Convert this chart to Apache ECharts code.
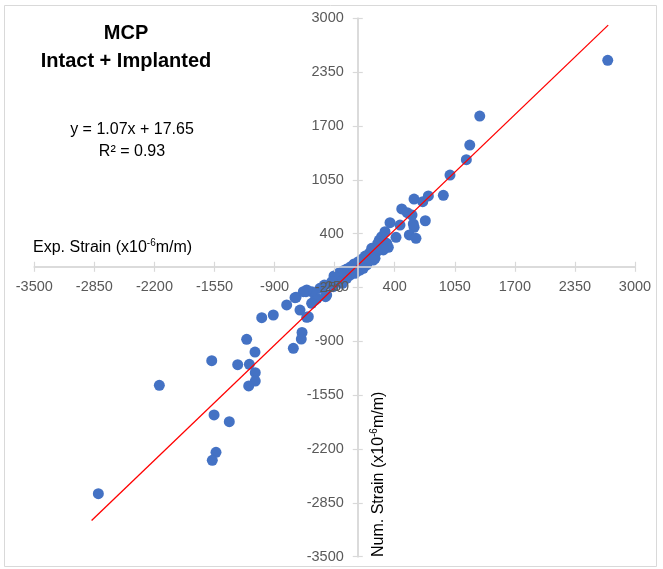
<!DOCTYPE html>
<html>
<head>
<meta charset="utf-8">
<script src="https://cdn.jsdelivr.net/npm/echarts@6/dist/echarts.min.js"></script>
<style>
html,body{margin:0;padding:0;background:#fff;}
#chart{width:663px;height:569px;}
</style>
</head>
<body>
<div id="chart"></div>
<script>
// Experimental strain (x) and numerical strain (y), x10^-6 m/m
const expStrain = [2705,1320,1212,1175,998,926,764,609,703,
  476,536,587,731,601,610,558,630,414,457,349,295,259,233,296,241,215,
  331,313,277,205,151,125,187,80,43,7,-40,-76,-120,-156,-210,-257,168,97,60,24,-11,-30,-84,-120,-192,-165,-265,-280,-362,-409,-348,-336,-440,-462,-499,-498,-560,-552,-589,-668,-679,-769,-625,-914,-1039,-552,-535,-603,-611,-697,-1202,-1112,-1580,-1299,-1173,-1109,-1109,-1180,-2147,-1555,-1390,-1534,-1574,-2807];
const numStrain = [2493,1820,1470,1293,1108,863,855,818,786,
  698,653,625,556,517,477,384,344,356,504,532,424,363,323,243,303,280,
  235,284,203,182,223,163,102,130,90,61,34,1,-27,-47,-79,-111,82,22,-18,-39,-59,-79,-99,-139,-180,-199,-240,-180,-220,-260,-361,-341,-380,-401,-441,-301,-301,-280,-301,-368,-373,-461,-522,-582,-615,-610,-603,-792,-872,-984,-875,-1029,-1134,-1182,-1177,-1279,-1379,-1439,-1431,-1789,-1870,-2240,-2336,-2739];
// Linear trendline: y = slope * x + intercept
const trendSlope = 1.07;
const trendIntercept = 17.65;
const trendXRange = [-2880, 2710];
const axisMin = -3500, axisMax = 3000, axisStep = 650;

const points = expStrain.map((x, i) => [x, numStrain[i]]);
const trend = trendXRange.map(x => [x, trendSlope * x + trendIntercept]);

const FONT = '"Liberation Sans", Arial, sans-serif';
const gray = '#d9d9d9';

const W = 663, H = 569;
const G = { left: 34.3, right: 28, top: 18.3, bottom: 12.3 };
const gw = W - G.left - G.right, gh = H - G.top - G.bottom;
// place each axis where the other axis has value 0 (axes cross at origin)
const zeroFracX = (0 - axisMin) / (axisMax - axisMin);
const zeroFracY = (0 - axisMin) / (axisMax - axisMin);
const xOffset = -zeroFracY * gh;   // bottom axis moved up to y = 0
const yOffset = -zeroFracX * gw;   // left axis moved right to x = 0

function mkX(main) {
  return {
    type: 'value', min: axisMin, max: axisMax, interval: axisStep, position: 'bottom',
    offset: xOffset, z: main ? 5 : 1,
    axisLine: { show: true, onZero: false, lineStyle: { color: gray, width: 1.5 } },
    axisTick: { show: true, inside: !main, length: 5, lineStyle: { color: gray, width: 1.2 } },
    axisLabel: { show: main, color: '#595959', fontSize: 14.5, fontFamily: FONT, margin: 13, formatter: v => String(v) },
    splitLine: { show: false }
  };
}
function mkY(main) {
  return {
    type: 'value', min: axisMin, max: axisMax, interval: axisStep, position: 'left',
    offset: yOffset, z: main ? 5 : 1,
    axisLine: { show: true, onZero: false, lineStyle: { color: gray, width: 1.5 } },
    axisTick: { show: true, inside: !main, length: 5, lineStyle: { color: gray, width: 1.2 } },
    axisLabel: { show: main, color: '#595959', fontSize: 14.5, fontFamily: FONT, margin: 14, formatter: v => String(v) },
    splitLine: { show: false }
  };
}

const chart = echarts.init(document.getElementById('chart'), null, { renderer: 'canvas' });
chart.setOption({
  animation: false,
  backgroundColor: '#fff',
  grid: { left: G.left, right: G.right, top: G.top, bottom: G.bottom, containLabel: false, outerBoundsMode: 'none' },
  xAxis: [mkX(true), mkX(false)],
  yAxis: [mkY(true), mkY(false)],
  series: [
    {
      type: 'scatter', xAxisIndex: 0, yAxisIndex: 0, data: points,
      symbol: 'circle', symbolSize: 11,
      itemStyle: { color: '#4472C4', opacity: 1 }, z: 3
    },
    {
      type: 'line', xAxisIndex: 0, yAxisIndex: 0, data: trend,
      showSymbol: false, symbol: 'none',
      lineStyle: { color: '#FF0000', width: 1.3 }, z: 4
    }
  ],
  graphic: [
    { type: 'rect', shape: { x: 4.5, y: 5.5, width: 652, height: 561 }, style: { fill: 'none', stroke: gray, lineWidth: 1 }, silent: true, z: -1 },
    { type: 'text', x: 126, y: 33, style: { text: 'MCP', font: 'bold 20px ' + FONT, fill: '#000', textAlign: 'center', textVerticalAlign: 'middle' } },
    { type: 'text', x: 126, y: 61, style: { text: 'Intact + Implanted', font: 'bold 20px ' + FONT, fill: '#000', textAlign: 'center', textVerticalAlign: 'middle' } },
    { type: 'text', x: 132, y: 130, style: { text: 'y = 1.07x + 17.65', font: '16px ' + FONT, fill: '#000', textAlign: 'center', textVerticalAlign: 'middle' } },
    { type: 'text', x: 132, y: 152, style: { text: 'R² = 0.93', font: '16px ' + FONT, fill: '#000', textAlign: 'center', textVerticalAlign: 'middle' } },
    { type: 'text', x: 33, y: 248, style: {
        text: '{a|Exp. Strain (x10}{s|-6}{a|m/m)}',
        textAlign: 'left', textVerticalAlign: 'middle',
        rich: {
          a: { fontSize: 16, fontFamily: FONT, fill: '#000', color: '#000' },
          s: { fontSize: 10, fontFamily: FONT, fill: '#000', color: '#000', padding: [0, 0, 9, 0] }
        } } },
    { type: 'text', x: 379, y: 557, rotation: Math.PI / 2, style: {
        text: '{a|Num. Strain (x10}{s|-6}{a|m/m)}',
        textAlign: 'left', textVerticalAlign: 'middle',
        rich: {
          a: { fontSize: 16, fontFamily: FONT, fill: '#000', color: '#000' },
          s: { fontSize: 10, fontFamily: FONT, fill: '#000', color: '#000', padding: [0, 0, 9, 0] }
        } } }
  ]
});
</script>
</body>
</html>
